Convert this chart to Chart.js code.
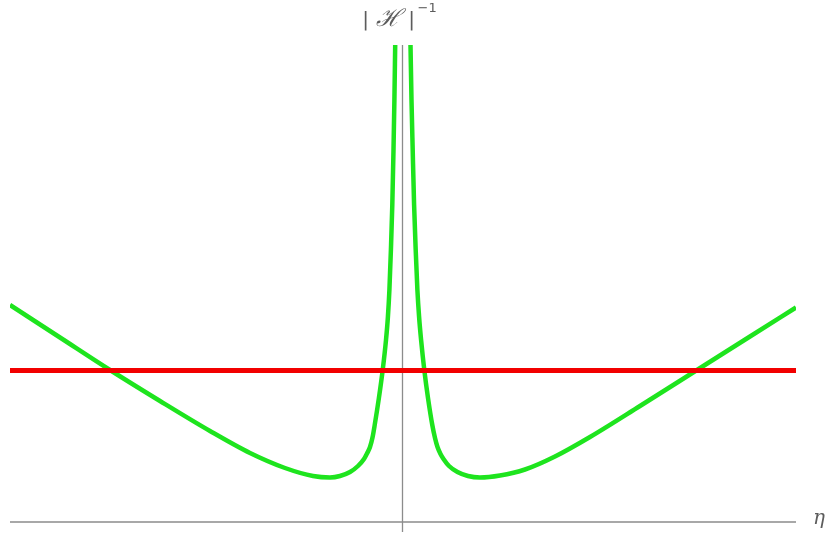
<!DOCTYPE html>
<html>
<head>
<meta charset="utf-8">
<script src="https://cdn.jsdelivr.net/npm/chart.js@4/dist/chart.umd.min.js"></script>
<style>
html,body{margin:0;padding:0;background:#fff;}
#wrap{width:828px;height:541px;}
</style>
</head>
<body>
<div id="wrap"><canvas id="c" width="828" height="541"></canvas></div>
<script>
// η values and |H|^-1 values (left branch, right branch)
const etaLeft = [-3.925,-3.425,-2.925,-2.425,-1.925,-1.525,-1.175,-0.895,-0.725,-0.625,-0.525,-0.445,-0.385,-0.355,-0.325,-0.300,-0.278,-0.236,-0.198,-0.165,-0.146,-0.131,-0.116,-0.102,-0.090,-0.081,-0.073];
const hLeft   = [2.17,1.845,1.52,1.21,0.91,0.69,0.54,0.46,0.445,0.46,0.50,0.56,0.63,0.685,0.75,0.845,0.97,1.24,1.52,1.82,2.05,2.32,2.72,3.17,3.72,4.22,4.77];
const etaRight = [0.080,0.090,0.102,0.116,0.132,0.149,0.166,0.186,0.218,0.255,0.298,0.325,0.350,0.380,0.410,0.465,0.550,0.655,0.775,0.975,1.225,1.525,1.875,2.375,2.945,3.475,3.935];
const hRight   = [4.77,4.22,3.72,3.17,2.72,2.32,2.05,1.82,1.52,1.24,0.97,0.84,0.75,0.68,0.63,0.56,0.50,0.46,0.445,0.465,0.525,0.655,0.85,1.16,1.52,1.855,2.145];
// horizontal level
const levelEta = [-3.925, 3.935];
const levelValue = [1.515, 1.515];
// axis labels
const yLabel = "ℋ";
const yExp = "−1";
const xLabel = "η";

const toXY = (xs, ys) => xs.map((x, i) => ({x: x, y: ys[i]}));

const axesPlugin = {
  id: 'axesPlugin',
  beforeDatasetsDraw(chart) {
    const {ctx, chartArea, scales} = chart;
    const x0 = scales.x.getPixelForValue(0);
    const y0 = scales.y.getPixelForValue(0);
    ctx.save();
    ctx.strokeStyle = '#8c8c8c';
    ctx.lineWidth = 1.3;
    ctx.beginPath();
    ctx.moveTo(chartArea.left, y0);
    ctx.lineTo(chartArea.right, y0);
    ctx.moveTo(x0, chartArea.top);
    ctx.lineTo(x0, chartArea.bottom);
    ctx.stroke();
    ctx.restore();
  },
  afterDraw(chart) {
    const {ctx, chartArea, scales} = chart;
    const x0 = scales.x.getPixelForValue(0);
    const y0 = scales.y.getPixelForValue(0);
    ctx.save();
    ctx.fillStyle = '#5c5c5c';
    ctx.textBaseline = 'alphabetic';
    ctx.textAlign = 'center';
    ctx.font = '20px "DejaVu Sans"';
    ctx.fillText('|', x0 - 37, 26);
    ctx.fillText('|', x0 + 9, 26);
    ctx.font = 'italic 24px "DejaVu Serif"';
    ctx.fillText(yLabel, x0 - 14, 26);
    ctx.textAlign = 'left';
    ctx.font = '13px "DejaVu Sans"';
    ctx.fillText(yExp, x0 + 15, 12);
    ctx.font = 'italic 20px "DejaVu Serif"';
    ctx.fillText(xLabel, chartArea.right + 17, y0 + 2);
    ctx.restore();
  }
};

new Chart(document.getElementById('c'), {
  type: 'scatter',
  data: {
    datasets: [
      {data: toXY(levelEta, levelValue), showLine: true, borderColor: '#f20000', borderWidth: 5, pointRadius: 0, borderCapStyle: 'butt'},
      {data: toXY(etaLeft, hLeft), showLine: true, borderColor: '#1ee41e', borderWidth: 4.5, pointRadius: 0, cubicInterpolationMode: 'monotone'},
      {data: toXY(etaRight, hRight), showLine: true, borderColor: '#1ee41e', borderWidth: 4.5, pointRadius: 0, cubicInterpolationMode: 'monotone'}
    ]
  },
  options: {
    responsive: false,
    animation: false,
    layout: {padding: {left: 10, right: 32, top: 45, bottom: 9}},
    plugins: {legend: {display: false}, tooltip: {enabled: false}, title: {display: false}},
    scales: {
      x: {type: 'linear', min: -3.925, max: 3.935, display: false},
      y: {type: 'linear', min: -0.1, max: 4.77, display: false}
    }
  },
  plugins: [axesPlugin]
});
</script>
</body>
</html>
